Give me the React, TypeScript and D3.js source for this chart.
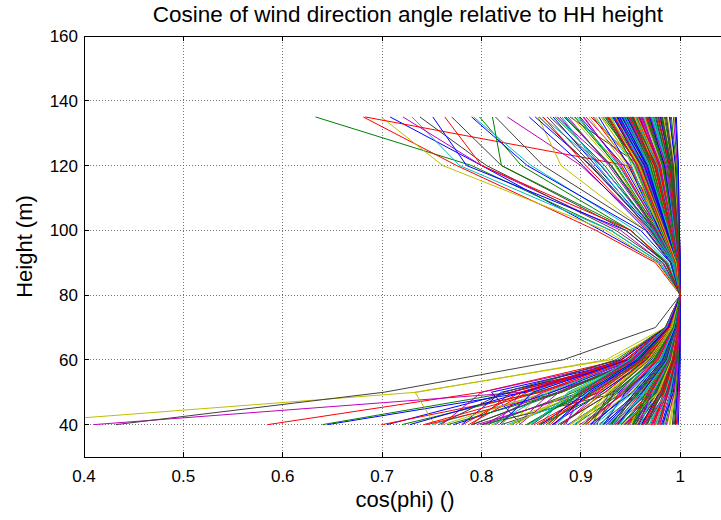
import React from "react";
import * as d3 from "d3";

const heights = [40, 50, 60, 70, 80, 90, 100, 120, 135];
const xTicks = [0.4, 0.5, 0.6, 0.7, 0.8, 0.9, 1];
const yTicks = [40, 60, 80, 100, 120, 140, 160];
const lineColors = ["#0000ff", "#008000", "#ff0000", "#00bfbf", "#bf00bf", "#bfbf00", "#404040"];

// cos(phi) at each height in `heights` for every profile (order: b g r c m y k)
const profiles: number[][] = [
  [0.645, 0.845, 0.95, 0.99, 1, 0.978, 0.92, 0.8, 0.708],
  [0.64, 0.83, 0.935, 0.985, 1, 0.98, 0.93, 0.79, 0.633],
  [0.585, 0.8, 0.94, 0.985, 1, 0.975, 0.915, 0.775, 0.681],
  [0.93, 0.97, 0.99, 0.997, 1, 0.98, 0.93, 0.778, 0.73],
  [0.41, 0.84, 0.955, 0.99, 1, 0.982, 0.94, 0.8, 0.721],
  [0.31, 0.735, 0.925, 0.985, 1, 0.977, 0.925, 0.761, 0.699],
  [0.432, 0.702, 0.882, 0.975, 1, 0.983, 0.935, 0.805, 0.738],

  [0.705, 0.83, 0.96, 0.99, 1, 0.985, 0.945, 0.785, 0.751],
  [0.72, 0.855, 0.97, 0.993, 1, 0.987, 0.95, 0.84, 0.798],
  [0.7, 0.86, 0.945, 0.985, 1, 0.998, 0.99, 0.946, 0.683],
  [0.75, 0.87, 0.965, 0.995, 1, 0.988, 0.955, 0.85, 0.792],
  [0.76, 0.8, 0.95, 0.99, 1, 0.992, 0.97, 0.9, 0.826],
  [0.753, 0.733, 0.93, 0.99, 1, 0.993, 0.965, 0.88, 0.857],
  [0.8, 0.9, 0.97, 0.995, 1, 0.986, 0.945, 0.82, 0.77],

  [0.78, 0.82, 0.965, 0.99, 1, 0.99, 0.96, 0.846, 0.79],
  [0.79, 0.88, 0.96, 0.99, 1, 0.985, 0.95, 0.82, 0.811],
  [0.745, 0.88, 0.955, 0.99, 1, 0.986, 0.95, 0.8, 0.763],
  [0.82, 0.85, 0.95, 0.99, 1, 0.995, 0.975, 0.92, 0.861],
  [0.835, 0.87, 0.97, 0.995, 1, 0.995, 0.98, 0.93, 0.876],
  [0.81, 0.91, 0.975, 0.995, 1, 0.996, 0.98, 0.94, 0.893],
  [0.82, 0.92, 0.97, 0.995, 1, 0.99, 0.965, 0.862, 0.814],

  [0.84, 0.81, 0.955, 0.99, 1, 0.993, 0.97, 0.91, 0.854],
  [0.83, 0.9, 0.965, 0.99, 1, 0.995, 0.975, 0.935, 0.898],
  [0.79, 0.83, 0.95, 0.99, 1, 0.997, 0.985, 0.96, 0.91],
  [0.85, 0.89, 0.96, 0.99, 1, 0.994, 0.975, 0.93, 0.884],
  [0.815, 0.84, 0.96, 0.99, 1, 0.996, 0.98, 0.95, 0.905],
  [0.83, 0.86, 0.97, 0.993, 1, 0.997, 0.985, 0.955, 0.92],
  [0.8, 0.94, 0.985, 0.997, 1, 0.994, 0.975, 0.92, 0.869],

  [0.772, 0.871, 0.952, 0.989, 1, 0.996, 0.985, 0.962, 0.934],
  [0.806, 0.893, 0.961, 0.991, 1, 0.997, 0.99, 0.975, 0.952],
  [0.787, 0.846, 0.945, 0.987, 1, 0.995, 0.983, 0.958, 0.927],
  [0.826, 0.912, 0.967, 0.992, 1, 0.998, 0.992, 0.981, 0.966],
  [0.838, 0.878, 0.954, 0.988, 1, 0.996, 0.987, 0.968, 0.945],
  [0.761, 0.865, 0.948, 0.988, 1, 0.997, 0.989, 0.97, 0.947],
  [0.851, 0.896, 0.958, 0.989, 1, 0.996, 0.984, 0.96, 0.889],

  [0.728, 0.842, 0.941, 0.986, 1, 0.997, 0.989, 0.971, 0.95],
  [0.766, 0.881, 0.957, 0.99, 1, 0.996, 0.985, 0.963, 0.939],
  [0.742, 0.858, 0.949, 0.988, 1, 0.998, 0.992, 0.979, 0.961],
  [0.812, 0.868, 0.951, 0.988, 1, 0.997, 0.988, 0.969, 0.948],
  [0.795, 0.905, 0.966, 0.991, 1, 0.996, 0.986, 0.965, 0.944],
  [0.834, 0.889, 0.959, 0.989, 1, 0.998, 0.991, 0.977, 0.958],
  [0.757, 0.823, 0.938, 0.985, 1, 0.997, 0.989, 0.972, 0.952],

  [0.818, 0.852, 0.947, 0.987, 1, 0.996, 0.985, 0.962, 0.937],
  [0.846, 0.903, 0.962, 0.99, 1, 0.997, 0.99, 0.976, 0.957],
  [0.781, 0.839, 0.944, 0.987, 1, 0.998, 0.993, 0.983, 0.969],
  [0.859, 0.887, 0.955, 0.988, 1, 0.996, 0.986, 0.964, 0.942],
  [0.803, 0.862, 0.953, 0.989, 1, 0.997, 0.988, 0.97, 0.949],
  [0.829, 0.899, 0.964, 0.991, 1, 0.996, 0.984, 0.959, 0.932],
  [0.791, 0.876, 0.958, 0.99, 1, 0.997, 0.99, 0.974, 0.953],

  [0.962, 0.98, 0.992, 0.997, 1, 0.993, 0.972, 0.915, 0.872],
  [0.945, 0.972, 0.988, 0.996, 1, 0.994, 0.976, 0.93, 0.885],
  [0.97, 0.985, 0.994, 0.998, 1, 0.992, 0.968, 0.905, 0.862],
  [0.935, 0.966, 0.987, 0.996, 1, 0.995, 0.979, 0.938, 0.896],
  [0.955, 0.976, 0.99, 0.997, 1, 0.993, 0.974, 0.92, 0.879],
  [0.978, 0.988, 0.995, 0.998, 1, 0.994, 0.977, 0.934, 0.891],
  [0.948, 0.97, 0.989, 0.997, 1, 0.992, 0.97, 0.912, 0.866],

  [0.958, 0.977, 0.991, 0.997, 1, 0.991, 0.966, 0.902, 0.848],
  [0.941, 0.969, 0.988, 0.996, 1, 0.993, 0.973, 0.924, 0.874],
  [0.966, 0.982, 0.993, 0.998, 1, 0.995, 0.978, 0.941, 0.902],
  [0.951, 0.974, 0.99, 0.997, 1, 0.992, 0.969, 0.917, 0.881],
  [0.972, 0.986, 0.994, 0.998, 1, 0.994, 0.975, 0.928, 0.887],
  [0.937, 0.964, 0.986, 0.996, 1, 0.996, 0.981, 0.945, 0.908],
  [0.961, 0.979, 0.992, 0.997, 1, 0.993, 0.971, 0.909, 0.858],

  [0.949, 0.972, 0.989, 0.997, 1, 0.995, 0.98, 0.943, 0.899],
  [0.975, 0.987, 0.995, 0.998, 1, 0.994, 0.977, 0.936, 0.894],
  [0.933, 0.961, 0.985, 0.996, 1, 0.996, 0.983, 0.949, 0.912],
  [0.964, 0.981, 0.993, 0.998, 1, 0.993, 0.972, 0.921, 0.877],
  [0.944, 0.968, 0.988, 0.996, 1, 0.995, 0.979, 0.939, 0.903],
  [0.969, 0.984, 0.994, 0.998, 1, 0.996, 0.982, 0.947, 0.915],
  [0.953, 0.975, 0.99, 0.997, 1, 0.994, 0.976, 0.931, 0.883],

  [0.952, 0.974, 0.991, 0.997, 1, 0.998, 0.991, 0.976, 0.941],
  [0.921, 0.962, 0.986, 0.996, 1, 0.997, 0.986, 0.962, 0.928],
  [0.983, 0.991, 0.996, 0.999, 1, 0.999, 0.996, 0.991, 0.979],
  [0.893, 0.934, 0.972, 0.993, 1, 0.996, 0.982, 0.955, 0.913],
  [0.971, 0.986, 0.995, 0.998, 1, 0.999, 0.994, 0.984, 0.966],
  [0.908, 0.951, 0.981, 0.995, 1, 0.998, 0.989, 0.971, 0.951],
  [0.992, 0.995, 0.998, 1, 1, 1, 0.998, 0.995, 0.99],
  [0.871, 0.921, 0.966, 0.99, 1, 0.995, 0.979, 0.948, 0.918],
  [0.943, 0.975, 0.99, 0.997, 1, 0.997, 0.988, 0.968, 0.945],
  [0.962, 0.981, 0.993, 0.998, 1, 0.998, 0.992, 0.98, 0.961],
  [0.884, 0.905, 0.958, 0.989, 1, 0.994, 0.977, 0.951, 0.931],
  [0.934, 0.968, 0.988, 0.996, 1, 0.999, 0.993, 0.981, 0.971],
  [0.976, 0.985, 0.994, 0.998, 1, 0.997, 0.985, 0.963, 0.936],
  [0.902, 0.944, 0.978, 0.994, 1, 0.998, 0.991, 0.978, 0.958],
  [0.958, 0.972, 0.989, 0.997, 1, 0.999, 0.995, 0.987, 0.975],
  [0.867, 0.898, 0.951, 0.988, 1, 0.996, 0.984, 0.959, 0.922],
  [0.996, 0.998, 0.999, 1, 1, 0.999, 0.997, 0.993, 0.986],
  [0.915, 0.939, 0.974, 0.993, 1, 0.997, 0.987, 0.965, 0.939],
  [0.948, 0.978, 0.992, 0.998, 1, 0.998, 0.99, 0.974, 0.952],
  [0.989, 0.994, 0.997, 0.999, 1, 1, 0.999, 0.997, 0.994],
  [0.879, 0.931, 0.969, 0.991, 1, 0.995, 0.981, 0.957, 0.926],
  [0.926, 0.957, 0.983, 0.995, 1, 0.998, 0.992, 0.982, 0.968],
  [0.967, 0.979, 0.99, 0.997, 1, 0.997, 0.986, 0.966, 0.943],
  [0.853, 0.912, 0.962, 0.989, 1, 0.996, 0.988, 0.973, 0.955],
  [0.938, 0.964, 0.987, 0.996, 1, 0.999, 0.994, 0.985, 0.973],
  [0.979, 0.99, 0.996, 0.999, 1, 0.998, 0.993, 0.983, 0.964],
  [0.897, 0.927, 0.967, 0.991, 1, 0.997, 0.989, 0.969, 0.944],
  [0.954, 0.982, 0.993, 0.998, 1, 0.999, 0.996, 0.99, 0.982],
  [0.912, 0.948, 0.979, 0.994, 1, 0.996, 0.983, 0.96, 0.933],
  [0.985, 0.992, 0.997, 0.999, 1, 0.999, 0.997, 0.992, 0.984],
  [0.862, 0.915, 0.96, 0.988, 1, 0.997, 0.99, 0.976, 0.957],
  [0.944, 0.969, 0.986, 0.996, 1, 0.998, 0.991, 0.977, 0.954],
  [0.973, 0.987, 0.995, 0.998, 1, 0.999, 0.995, 0.986, 0.969],
  [0.889, 0.941, 0.976, 0.993, 1, 0.995, 0.98, 0.953, 0.921],
  [0.931, 0.954, 0.982, 0.995, 1, 0.998, 0.993, 0.983, 0.97],
  [0.998, 0.999, 1, 1, 1, 1, 0.999, 0.998, 0.996],
  [0.906, 0.936, 0.973, 0.992, 1, 0.997, 0.988, 0.97, 0.947],
  [0.963, 0.983, 0.994, 0.998, 1, 0.998, 0.99, 0.972, 0.948],
  [0.875, 0.908, 0.955, 0.987, 1, 0.996, 0.985, 0.962, 0.935],
  [0.941, 0.973, 0.989, 0.997, 1, 0.999, 0.995, 0.988, 0.977],
  [0.987, 0.993, 0.997, 0.999, 1, 0.999, 0.995, 0.985, 0.962],
  [0.918, 0.958, 0.984, 0.995, 1, 0.997, 0.987, 0.967, 0.942],
  [0.957, 0.976, 0.991, 0.997, 1, 0.998, 0.992, 0.979, 0.959],
  [0.845, 0.901, 0.957, 0.988, 1, 0.996, 0.986, 0.966, 0.938],
  [0.927, 0.961, 0.985, 0.996, 1, 0.999, 0.994, 0.986, 0.974],
  [0.975, 0.989, 0.996, 0.999, 1, 0.998, 0.991, 0.975, 0.95],
  [0.899, 0.946, 0.977, 0.994, 1, 0.997, 0.99, 0.977, 0.96],
  [0.951, 0.966, 0.987, 0.996, 1, 0.999, 0.996, 0.991, 0.983],
  [0.911, 0.929, 0.969, 0.992, 1, 0.996, 0.984, 0.958, 0.924],
  [0.981, 0.991, 0.996, 0.999, 1, 1, 0.998, 0.995, 0.989],
  [0.858, 0.925, 0.964, 0.99, 1, 0.997, 0.989, 0.972, 0.949],
  [0.936, 0.971, 0.988, 0.997, 1, 0.998, 0.993, 0.981, 0.965],
  [0.969, 0.98, 0.992, 0.998, 1, 0.999, 0.994, 0.983, 0.963],
  [0.882, 0.918, 0.962, 0.989, 1, 0.995, 0.982, 0.956, 0.929],
  [0.946, 0.977, 0.991, 0.997, 1, 0.998, 0.991, 0.978, 0.957],
  [0.994, 0.997, 0.999, 1, 1, 0.999, 0.997, 0.992, 0.985],
  [0.923, 0.945, 0.98, 0.994, 1, 0.997, 0.986, 0.964, 0.937],
  [0.959, 0.984, 0.994, 0.998, 1, 0.999, 0.995, 0.988, 0.976],
  [0.869, 0.903, 0.953, 0.987, 1, 0.996, 0.987, 0.969, 0.946],
  [0.939, 0.963, 0.985, 0.996, 1, 0.998, 0.992, 0.98, 0.962],
  [0.978, 0.988, 0.995, 0.998, 1, 0.999, 0.996, 0.989, 0.978],
  [0.904, 0.95, 0.979, 0.994, 1, 0.997, 0.988, 0.966, 0.935],
  [0.955, 0.97, 0.988, 0.997, 1, 0.998, 0.993, 0.984, 0.968],
  [0.887, 0.938, 0.971, 0.992, 1, 0.996, 0.983, 0.961, 0.932],
  [0.93, 0.958, 0.983, 0.995, 1, 0.999, 0.995, 0.987, 0.973],
  [0.972, 0.984, 0.994, 0.998, 1, 0.998, 0.992, 0.978, 0.953],
  [0.848, 0.896, 0.949, 0.986, 1, 0.996, 0.985, 0.963, 0.94],
  [0.944, 0.975, 0.99, 0.997, 1, 0.999, 0.994, 0.984, 0.967],
  [0.99, 0.995, 0.998, 1, 1, 1, 0.998, 0.994, 0.987],
  [0.916, 0.933, 0.975, 0.993, 1, 0.997, 0.989, 0.974, 0.956],
  [0.961, 0.979, 0.992, 0.998, 1, 0.998, 0.99, 0.973, 0.946],
  [0.894, 0.942, 0.974, 0.993, 1, 0.995, 0.981, 0.954, 0.925],
  [0.935, 0.967, 0.986, 0.996, 1, 0.999, 0.995, 0.989, 0.98],
  [0.984, 0.99, 0.996, 0.999, 1, 0.999, 0.996, 0.988, 0.971],
  [0.873, 0.911, 0.959, 0.988, 1, 0.996, 0.986, 0.965, 0.943],
  [0.949, 0.972, 0.989, 0.997, 1, 0.998, 0.991, 0.976, 0.955],
  [0.966, 0.986, 0.995, 0.998, 1, 0.999, 0.997, 0.993, 0.986],
  [0.909, 0.952, 0.98, 0.994, 1, 0.997, 0.987, 0.968, 0.944],
  [0.952, 0.965, 0.987, 0.996, 1, 0.998, 0.993, 0.982, 0.966],
  [0.88, 0.924, 0.966, 0.99, 1, 0.996, 0.984, 0.96, 0.934],
  [0.928, 0.96, 0.984, 0.995, 1, 0.999, 0.994, 0.985, 0.971],
  [0.997, 0.998, 0.999, 1, 1, 1, 0.999, 0.997, 0.993],
  [0.901, 0.93, 0.97, 0.992, 1, 0.997, 0.989, 0.971, 0.949],
  [0.957, 0.98, 0.993, 0.998, 1, 0.998, 0.99, 0.974, 0.951],
  [0.86, 0.906, 0.956, 0.988, 1, 0.996, 0.986, 0.967, 0.941],
  [0.94, 0.974, 0.99, 0.997, 1, 0.999, 0.995, 0.987, 0.976],
  [0.974, 0.983, 0.993, 0.998, 1, 0.999, 0.995, 0.985, 0.967],
  [0.92, 0.947, 0.981, 0.994, 1, 0.997, 0.988, 0.969, 0.945],
  [0.963, 0.987, 0.995, 0.999, 1, 0.998, 0.992, 0.98, 0.961],
  [0.891, 0.919, 0.963, 0.99, 1, 0.995, 0.982, 0.958, 0.93],
  [0.933, 0.956, 0.984, 0.995, 1, 0.999, 0.996, 0.99, 0.981],
  [0.982, 0.993, 0.997, 0.999, 1, 0.999, 0.996, 0.99, 0.98],
  [0.865, 0.913, 0.961, 0.989, 1, 0.996, 0.987, 0.97, 0.952],
  [0.947, 0.97, 0.988, 0.997, 1, 0.998, 0.991, 0.979, 0.958],
  [0.969, 0.985, 0.995, 0.998, 1, 0.999, 0.994, 0.986, 0.972],
  [0.913, 0.94, 0.976, 0.993, 1, 0.997, 0.986, 0.963, 0.938],
  [0.956, 0.978, 0.991, 0.997, 1, 0.998, 0.992, 0.981, 0.964],
  [0.877, 0.932, 0.968, 0.991, 1, 0.996, 0.985, 0.961, 0.928],
  [0.937, 0.962, 0.986, 0.996, 1, 0.999, 0.994, 0.984, 0.969],
  [0.993, 0.996, 0.998, 1, 1, 1, 0.998, 0.996, 0.991],
  [0.905, 0.943, 0.977, 0.994, 1, 0.997, 0.99, 0.975, 0.953],
  [0.96, 0.973, 0.99, 0.997, 1, 0.998, 0.991, 0.977, 0.955],
  [0.885, 0.9, 0.952, 0.987, 1, 0.996, 0.988, 0.972, 0.948],
  [0.942, 0.979, 0.991, 0.997, 1, 0.999, 0.995, 0.988, 0.977],
  [0.977, 0.988, 0.996, 0.999, 1, 0.999, 0.997, 0.991, 0.982],
  [0.924, 0.955, 0.982, 0.995, 1, 0.997, 0.987, 0.966, 0.939],
  [0.953, 0.968, 0.988, 0.997, 1, 0.998, 0.993, 0.983, 0.968],
  [0.856, 0.917, 0.963, 0.989, 1, 0.995, 0.983, 0.957, 0.927],
  [0.932, 0.965, 0.987, 0.996, 1, 0.999, 0.994, 0.986, 0.974],
  [0.986, 0.994, 0.997, 0.999, 1, 0.999, 0.995, 0.986, 0.97],
  [0.896, 0.928, 0.968, 0.991, 1, 0.997, 0.989, 0.973, 0.954],
  [0.965, 0.982, 0.993, 0.998, 1, 0.998, 0.991, 0.976, 0.952],
  [0.872, 0.909, 0.958, 0.988, 1, 0.996, 0.986, 0.964, 0.936],
  [0.945, 0.976, 0.99, 0.997, 1, 0.999, 0.996, 0.99, 0.981],
  [0.98, 0.987, 0.995, 0.998, 1, 0.999, 0.996, 0.989, 0.977],
  [0.914, 0.953, 0.98, 0.994, 1, 0.997, 0.988, 0.968, 0.943],
  [0.958, 0.971, 0.989, 0.997, 1, 0.998, 0.992, 0.98, 0.962],
  [0.888, 0.937, 0.972, 0.992, 1, 0.996, 0.984, 0.959, 0.929],
  [0.929, 0.959, 0.985, 0.996, 1, 0.999, 0.995, 0.988, 0.978],
  [0.995, 0.997, 0.999, 1, 1, 1, 0.999, 0.998, 0.995],
  [0.903, 0.935, 0.973, 0.993, 1, 0.997, 0.989, 0.972, 0.95],
  [0.962, 0.98, 0.992, 0.998, 1, 0.998, 0.99, 0.974, 0.949],
];

const W = 721;
const H = 520;
const M = { left: 84, top: 36, right: 730, bottom: 457 };
const FONT = "'Liberation Sans', Arial, sans-serif";

export default function App() {
  const x = d3.scaleLinear().domain([0.4, 1.05]).range([M.left, M.right]);
  const y = d3.scaleLinear().domain([30, 160]).range([M.bottom, M.top]);
  const line = d3
    .line<[number, number]>()
    .x((d) => x(d[0]))
    .y((d) => y(d[1]));

  return (
    <svg
      width={W}
      height={H}
      style={{ position: "absolute", left: 0, top: 0, background: "#fff" }}
      fontFamily={FONT}
    >
      <defs>
        <clipPath id="plotClip">
          <rect x={M.left} y={M.top} width={M.right - M.left} height={M.bottom - M.top} />
        </clipPath>
      </defs>
      <rect x={0} y={0} width={W} height={H} fill="#fff" />
      <g stroke="#555" strokeWidth={0.8} strokeDasharray="1 2" shapeRendering="crispEdges">
        {xTicks.slice(1).map((t) => (
          <line key={"gx" + t} x1={x(t)} x2={x(t)} y1={M.top} y2={M.bottom} />
        ))}
        {yTicks.map((t) => (
          <line key={"gy" + t} x1={M.left} x2={M.right} y1={y(t)} y2={y(t)} />
        ))}
      </g>
      <g clipPath="url(#plotClip)" fill="none" strokeWidth={1}>
        {profiles.map((p, i) => (
          <path
            key={i}
            d={line(p.map((c, k) => [c, heights[k]] as [number, number])) || ""}
            stroke={lineColors[i % lineColors.length]}
          />
        ))}
      </g>
      <g stroke="#000" strokeWidth={1} shapeRendering="crispEdges" fill="none">
        <line x1={M.left} x2={M.right} y1={M.top} y2={M.top} />
        <line x1={M.left} x2={M.right} y1={M.bottom} y2={M.bottom} />
        <line x1={M.left} x2={M.left} y1={M.top} y2={M.bottom} />
        {xTicks.map((t) => (
          <g key={"tx" + t}>
            <line x1={x(t)} x2={x(t)} y1={M.bottom} y2={M.bottom - 5} />
            <line x1={x(t)} x2={x(t)} y1={M.top} y2={M.top + 5} />
          </g>
        ))}
        {yTicks.map((t) => (
          <line key={"ty" + t} x1={M.left} x2={M.left + 5} y1={y(t)} y2={y(t)} />
        ))}
      </g>
      <g fontSize={17} fill="#000">
        {xTicks.map((t) => (
          <text key={"lx" + t} x={x(t)} y={482} textAnchor="middle">
            {d3.format("")(t)}
          </text>
        ))}
        {yTicks.map((t) => (
          <text key={"ly" + t} x={78} y={y(t) + 6} textAnchor="end">
            {t}
          </text>
        ))}
      </g>
      <text x={408} y={22} textAnchor="middle" fontSize={22.5} fill="#000">
        Cosine of wind direction angle relative to HH height
      </text>
      <text x={405} y={507} textAnchor="middle" fontSize={22} fill="#000">
        cos(phi) ()
      </text>
      <text
        transform={`translate(32, ${(M.top + M.bottom) / 2}) rotate(-90)`}
        textAnchor="middle"
        fontSize={22}
        fill="#000"
      >
        Height (m)
      </text>
    </svg>
  );
}
